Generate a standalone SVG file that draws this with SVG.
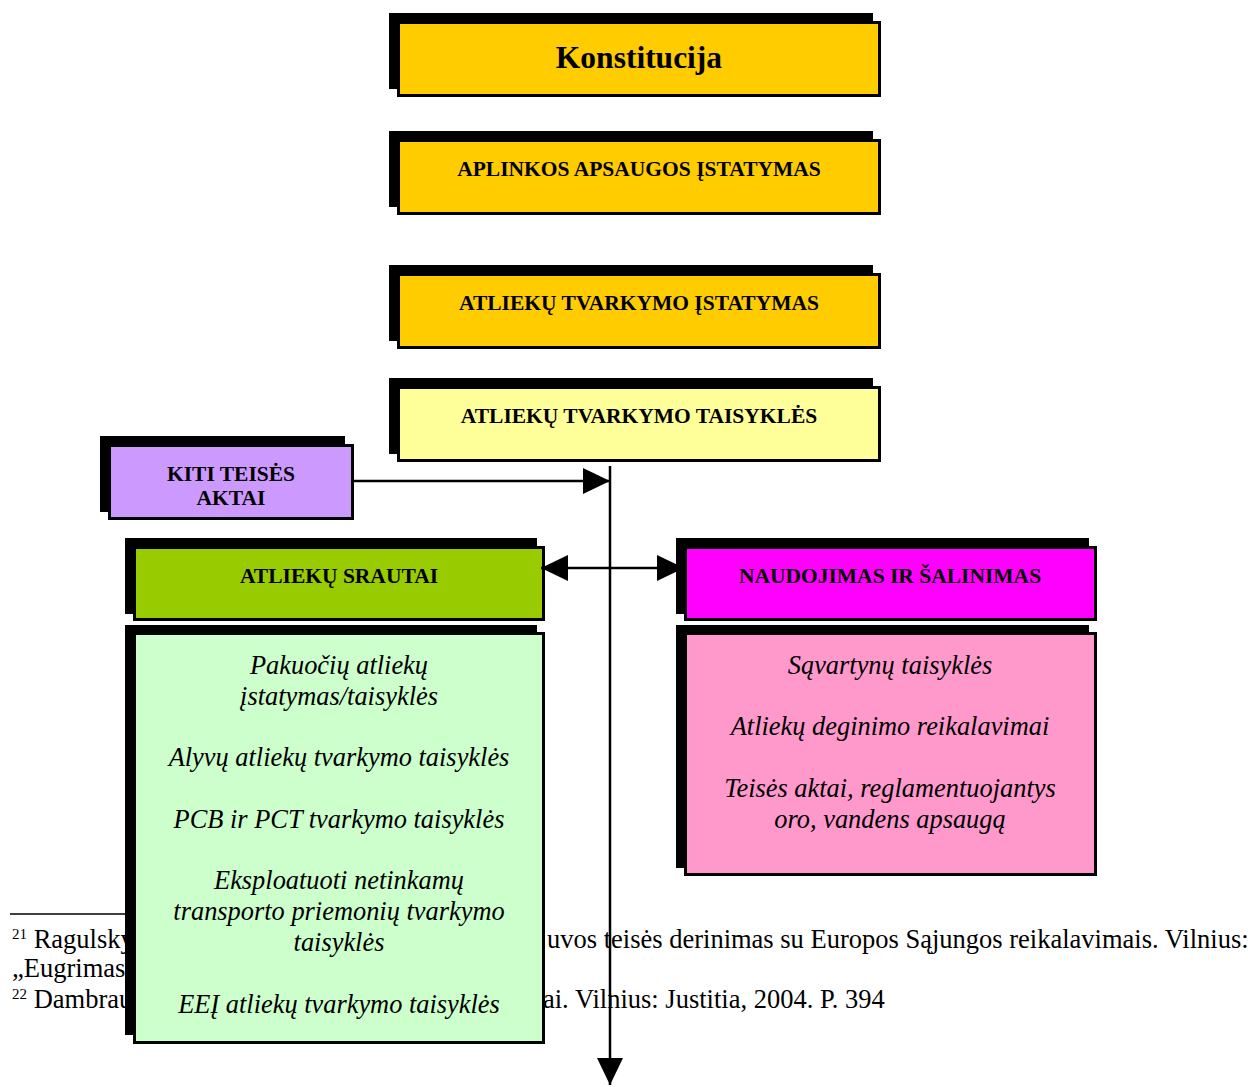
<svg xmlns="http://www.w3.org/2000/svg" width="1248" height="1087" viewBox="0 0 1248 1087">
<style>
.sh{fill:#000}
.bx{stroke:#000;stroke-width:3}
.t{font-family:"Liberation Serif","Times New Roman",serif;font-weight:bold;font-size:21.5px;text-anchor:middle;fill:#000}
.i{font-family:"Liberation Serif","Times New Roman",serif;font-style:italic;font-size:26.4px;text-anchor:middle;fill:#000}
.f{font-family:"Liberation Serif","Times New Roman",serif;font-size:26.5px;fill:#000}
.s{font-size:15px}
.c{stroke:#000;stroke-width:2.5;fill:none}
</style>
<defs>
<marker id="ah" viewBox="0 0 27 26" refX="27" refY="13" markerWidth="27" markerHeight="26" markerUnits="userSpaceOnUse" orient="auto-start-reverse">
<path d="M0,0 L27,13 L0,26 z" fill="#000"/>
</marker>
</defs>
<g id="footnotes">
<line x1="10" y1="914" x2="200" y2="914" stroke="#000" stroke-width="1.5"/>
<text class="f" x="12" y="948"><tspan class="s" dy="-9">21</tspan><tspan dy="9"> Ragulskys</tspan></text>
<text class="f" x="547" y="948">uvos teisės derinimas su Europos Sąjungos reikalavimais. Vilnius:</text>
<text class="f" x="12" y="977">„Eugrimas“</text>
<text class="f" x="12" y="1008"><tspan class="s" dy="-9">22</tspan><tspan dy="9"> Dambrauskas</tspan></text>
<text class="f" x="543" y="1008">ai. Vilnius: Justitia, 2004. P. 394</text>
</g>
<g id="konstitucija">
<rect class="sh" x="389" y="13" width="484" height="76"/>
<rect class="bx" x="398.5" y="22.5" width="481" height="73" fill="#FFCC00"/>
<text class="t" x="639" y="68" style="font-size:31.5px">Konstitucija</text>
</g>
<g id="aplinkos">
<rect class="sh" x="389" y="131" width="484" height="76"/>
<rect class="bx" x="398.5" y="140.5" width="481" height="73" fill="#FFCC00"/>
<text class="t" x="639" y="176">APLINKOS APSAUGOS ĮSTATYMAS</text>
</g>
<g id="atl-istatymas">
<rect class="sh" x="389" y="265" width="484" height="76"/>
<rect class="bx" x="398.5" y="274.5" width="481" height="73" fill="#FFCC00"/>
<text class="t" x="639" y="310">ATLIEKŲ TVARKYMO ĮSTATYMAS</text>
</g>
<g id="atl-taisykles">
<rect class="sh" x="389" y="378" width="484" height="76"/>
<rect class="bx" x="398.5" y="387.5" width="481" height="73" fill="#FFFF99"/>
<text class="t" x="639" y="423">ATLIEKŲ TVARKYMO TAISYKLĖS</text>
</g>
<g id="kiti">
<rect class="sh" x="100" y="436" width="245" height="76"/>
<rect class="bx" x="109.5" y="445.5" width="243" height="73" fill="#CC99FF"/>
<text class="t" x="231" y="481">KITI TEISĖS</text>
<text class="t" x="231" y="505">AKTAI</text>
</g>
<g id="srautai">
<rect class="sh" x="125" y="538" width="412" height="76"/>
<rect class="bx" x="134.5" y="547.5" width="409" height="72" fill="#99CC00"/>
<text class="t" x="339" y="583">ATLIEKŲ SRAUTAI</text>
</g>
<g id="srautai-list">
<rect class="sh" x="125" y="625" width="412" height="410"/>
<rect class="bx" x="134.5" y="633.5" width="409" height="409" fill="#CCFFCC"/>
<text class="i" x="339" y="674">Pakuočių atliekų</text>
<text class="i" x="339" y="705">įstatymas/taisyklės</text>
<text class="i" x="339" y="766">Alyvų atliekų tvarkymo taisyklės</text>
<text class="i" x="339" y="828">PCB ir PCT tvarkymo taisyklės</text>
<text class="i" x="339" y="889">Eksploatuoti netinkamų</text>
<text class="i" x="339" y="920">transporto priemonių tvarkymo</text>
<text class="i" x="339" y="951">taisyklės</text>
<text class="i" x="339" y="1013">EEĮ atliekų tvarkymo taisyklės</text>
</g>
<g id="naudojimas">
<rect class="sh" x="676" y="538" width="413" height="76"/>
<rect class="bx" x="685.5" y="547.5" width="410" height="72" fill="#FF00FF"/>
<text class="t" x="890" y="583">NAUDOJIMAS IR ŠALINIMAS</text>
</g>
<g id="naudojimas-list">
<rect class="sh" x="676" y="625" width="413" height="243"/>
<rect class="bx" x="685.5" y="633.5" width="410" height="241" fill="#FF99CC"/>
<text class="i" x="890" y="674">Sąvartynų taisyklės</text>
<text class="i" x="890" y="735">Atliekų deginimo reikalavimai</text>
<text class="i" x="890" y="797">Teisės aktai, reglamentuojantys</text>
<text class="i" x="890" y="828">oro, vandens apsaugą</text>
</g>
<g id="connectors">
<path class="c" d="M610,466 L610,1085" marker-end="url(#ah)"/>
<path class="c" d="M353,481 L610,481" marker-end="url(#ah)"/>
<path class="c" d="M541,568 L684,568" marker-start="url(#ah)" marker-end="url(#ah)"/>
</g>
</svg>
